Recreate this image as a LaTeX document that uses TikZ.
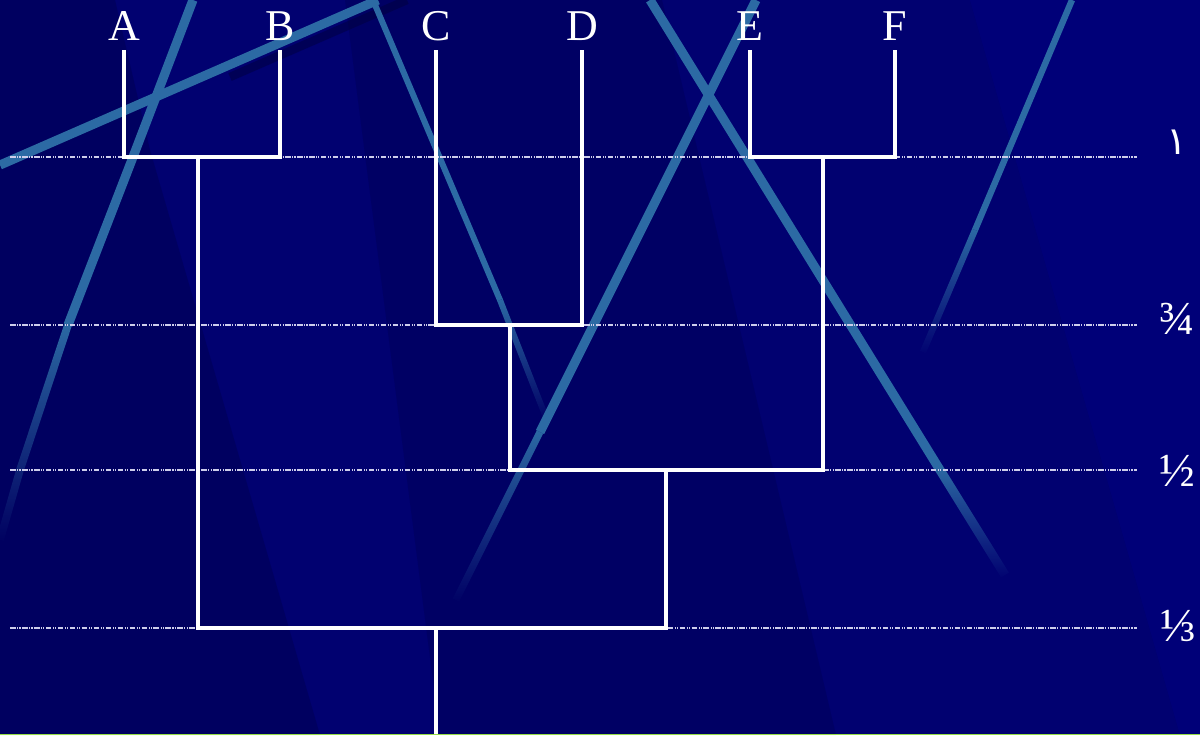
\documentclass[tikz,border=0pt]{standalone}
\usepackage{fontspec}
\setmainfont{Liberation Serif}
\newfontfamily\arabicfont[Script=Arabic]{DejaVu Sans}
\TeXXeTstate=1
\usetikzlibrary{fadings}
\definecolor{bgblue}{RGB}{1,1,112}
\definecolor{streakblue}{RGB}{44,106,164}
\definecolor{shadeblue}{RGB}{0,0,62}
\definecolor{levelgrey}{RGB}{205,205,235}
\definecolor{edgegreen}{RGB}{150,220,70}
\tikzfading[name=tailfade, top color=transparent!0, bottom color=transparent!100]
\begin{document}
\begin{tikzpicture}[x=0.01cm,y=-0.01cm,
		branch/.style={draw=white,line width=1.3pt,line cap=rect},
		level/.style={draw=levelgrey,line width=0.35pt,dash pattern=on 1.6pt off .4pt on .3pt off .4pt on .3pt off .4pt},
		leaf/.style={text=white,font=\fontsize{12.5}{14}\selectfont,inner sep=3pt,anchor=south},
		ratio/.style={text=white,font=\fontsize{13.5}{15}\selectfont,inner sep=0pt},
		streak/.style={draw=streakblue,line width=2.6pt,line cap=butt}]
				\useasboundingbox (0,0) rectangle (1200,735);
				% background and darker wedges
				\fill[bgblue] (0,0) rectangle (1200,735);
				\fill[black,opacity=.14] (0,0) -- (115,0) -- (150,150) -- (320,735) -- (0,735) -- cycle;
				\fill[black,opacity=.1] (345,0) -- (662,0) -- (836,735) -- (440,735) -- cycle;
				\fill[blue,opacity=.06] (970,0) -- (1200,0) -- (1200,735) -- (1180,735) -- cycle;
				% streaks
				\draw[shadeblue,line width=2.4pt,opacity=.5] (230,77) -- (407,0);
				\draw[streak] (0,165) -- (378,0);
				\draw[streak] (193,0) -- (133,157) -- (68,325);
				\draw[streak,line width=2.2pt,path fading=tailfade] (68,325) -- (20,470) -- (0,540);
				\draw[streak,line width=1.7pt] (373,0) -- (500,300);
				\draw[streak,line width=1.7pt,path fading=tailfade] (500,300) -- (547,420);
				\draw[streak] (650,0) -- (940,470);
				\draw[streak,path fading=tailfade] (940,470) -- (1005,575);
				\draw[streak] (756,0) -- (540,432);
				\draw[streak,line width=2pt,path fading=tailfade] (540,432) -- (456,600);
				\draw[streak,line width=1.8pt] (1072,0) -- (975,230);
				\draw[streak,line width=1.8pt,path fading=tailfade] (975,230) -- (923,352);
				% level lines
				\foreach \y in {157,325,470,628}
					\draw[level] (10,\y) -- (1137,\y);
				% leaves
				\foreach \name/\x in {A/124,B/280,C/436,D/582,E/750,F/895}
					\node[leaf] (\name) at (\x,52) {\name};
				% joins
				\coordinate (ab) at (198,157);
				\coordinate (ef) at (823,157);
				\coordinate (cd) at (510,325);
				\coordinate (cdef) at (666,470);
				\coordinate (root) at (436,628);
				\coordinate (base) at (436,735);
				% tree
				\draw[branch] (A.south) |- (ab) -| (B.south);
				\draw[branch] (E.south) |- (ef) -| (F.south);
				\draw[branch] (C.south) |- (cd) -| (D.south);
				\draw[branch] (cd) |- (cdef) -| (ef);
				\draw[branch] (ab) |- (root) -| (cdef);
				\draw[branch] (root) -- (base);
				% labels
				\node[ratio] (r1) at (1177,142) {\fontsize{11}{12}\selectfont\arabicfont\beginR ١\endR};
				\node[ratio] (r34) at (1177,319) {¾};
				\node[ratio] (r12) at (1177,471) {½};
				\node[ratio] (r13) at (1178,626) {⅓};
				\draw[edgegreen,line width=0.3pt] (0,734.6) -- (1200,734.6);
			\end{tikzpicture}
\end{document}
